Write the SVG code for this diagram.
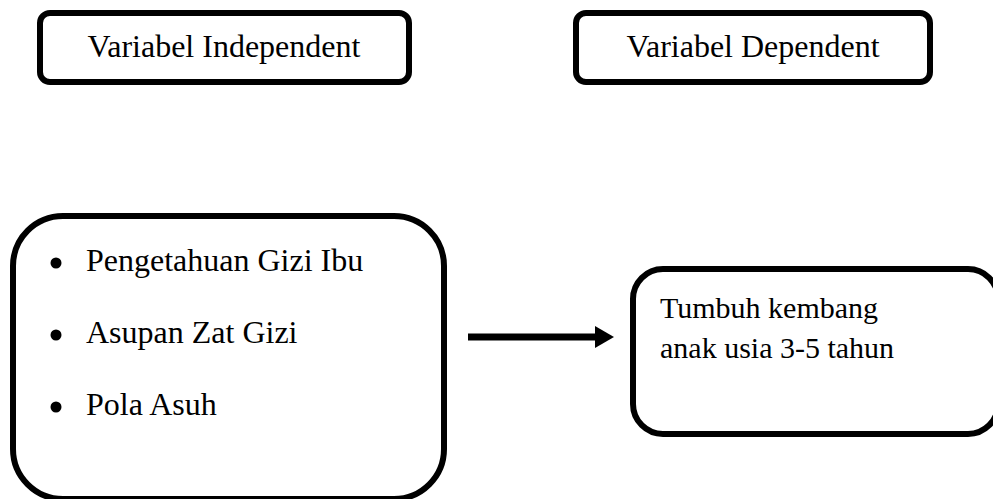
<svg xmlns="http://www.w3.org/2000/svg" width="993" height="499" viewBox="0 0 993 499">
<style>
.box{fill:#fff;stroke:#000;stroke-width:6}
text{fill:#000}
</style>
<rect width="993" height="499" fill="#fff"/>
<g font-family="Liberation Serif, Times New Roman, DejaVu Serif, serif">
<g id="independent-header">
<rect class="box" x="40" y="13" width="369" height="69" rx="10"/>
<text x="224" y="57" font-size="32" text-anchor="middle">Variabel Independent</text>
</g>
<g id="dependent-header">
<rect class="box" x="576" y="13" width="354" height="69" rx="10"/>
<text x="753" y="57" font-size="32" text-anchor="middle">Variabel Dependent</text>
</g>
<g id="independent-vars">
<rect class="box" x="13" y="216" width="431" height="283" rx="50"/>
<circle cx="56" cy="263" r="5.5"/>
<text x="86" y="271" font-size="32">Pengetahuan Gizi Ibu</text>
<circle cx="56" cy="335" r="5.5"/>
<text x="86" y="343" font-size="32">Asupan Zat Gizi</text>
<circle cx="56" cy="407" r="5.5"/>
<text x="86" y="415" font-size="32">Pola Asuh</text>
</g>
<g id="dependent-var">
<rect class="box" x="633" y="269" width="365" height="165" rx="30"/>
<text x="660" y="318" font-size="30">Tumbuh kembang</text>
<text x="660" y="358" font-size="30">anak usia 3-5 tahun</text>
</g>
</g>
<g id="connectors">
<line x1="468" y1="337" x2="596" y2="337" stroke="#000" stroke-width="7"/>
<path d="M595,326 L614,337 L595,348 Z" fill="#000"/>
</g>
</svg>
